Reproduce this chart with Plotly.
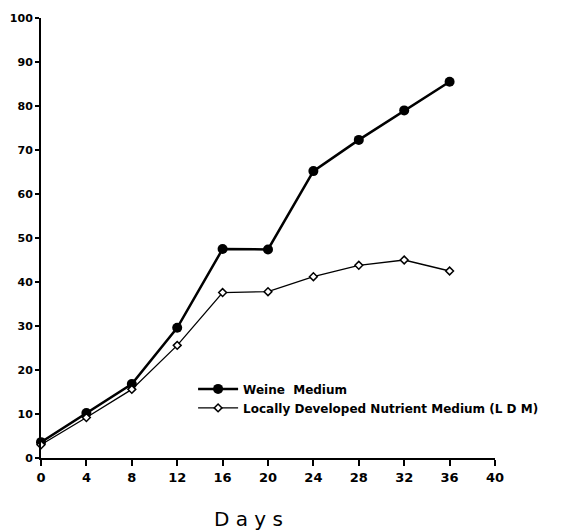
import plotly.graph_objects as go

days = [0, 4, 8, 12, 16, 20, 24, 28, 32, 36]
weine = [3.6, 10.2, 16.8, 29.6, 47.5, 47.4, 65.2, 72.3, 79.0, 85.5]
ldm = [3.0, 9.2, 15.6, 25.6, 37.6, 37.8, 41.2, 43.8, 45.0, 42.5]
x_ticks = [0, 4, 8, 12, 16, 20, 24, 28, 32, 36, 40]
y_ticks = [0, 10, 20, 30, 40, 50, 60, 70, 80, 90, 100]

fig = go.Figure()
fig.add_trace(go.Scatter(
    x=days, y=weine, mode="lines+markers", name="Weine  Medium",
    line=dict(color="black", width=2.5),
    marker=dict(symbol="circle", size=10, color="black"),
    cliponaxis=False,
))
fig.add_trace(go.Scatter(
    x=days, y=ldm, mode="lines+markers", name="Locally Developed Nutrient Medium (L D M)",
    line=dict(color="black", width=1.3),
    marker=dict(symbol="diamond", size=6, color="white", line=dict(color="black", width=1.5)),
    cliponaxis=False,
))

font_main = dict(family="DejaVu Sans", size=13, color="black", weight="bold")
font_y = dict(family="DejaVu Sans", size=11, color="black", weight="bold")

fig.update_layout(
    width=555, height=524,
    margin=dict(l=33, r=68, t=10, b=74),
    paper_bgcolor="white", plot_bgcolor="white",
    showlegend=True,
    legend=dict(
        x=0.335, y=0.19, xanchor="left", yanchor="top",
        bgcolor="rgba(0,0,0,0)", font=dict(family="DejaVu Sans", size=12, color="black", weight="bold"),
        tracegroupgap=0, itemwidth=40,
    ),
    xaxis=dict(
        range=[0, 40], tickvals=x_ticks, ticktext=[str(v) for v in x_ticks],
        showgrid=False, zeroline=False, showline=True, linecolor="black", linewidth=2,
        ticks="outside", ticklen=6, tickwidth=2, tickcolor="black",
        tickfont=font_main, automargin=False,
    ),
    yaxis=dict(
        range=[0, 100], tickvals=y_ticks, ticktext=[str(v) for v in y_ticks],
        showgrid=False, zeroline=False, showline=True, linecolor="black", linewidth=2,
        ticks="outside", ticklen=4, tickwidth=2, tickcolor="black",
        tickfont=font_y, automargin=False, ticklabeloverflow="allow",
    ),
    annotations=[dict(
        text="D a y s", x=0.456, y=-0.138, xref="paper", yref="paper",
        xanchor="center", yanchor="middle", showarrow=False,
        font=dict(family="DejaVu Sans", size=20, color="black"),
    )],
)

fig.write_html("out.html")
